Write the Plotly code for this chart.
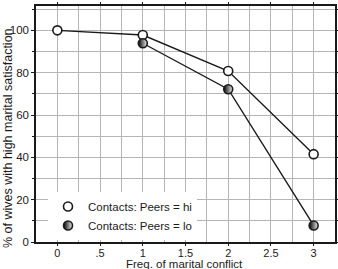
import plotly.graph_objects as go

conflict_hi = [0, 1, 2, 3]
sat_hi = [100, 97.8, 80.8, 41.5]
conflict_lo = [1, 2, 3]
sat_lo = [93.9, 72.2, 7.8]
name_hi = "Contacts: Peers = hi"
name_lo = "Contacts: Peers = lo"
x_tickvals = [0, 0.5, 1, 1.5, 2, 2.5, 3]
x_ticktext = ["0", ".5", "1", "1.5", "2", "2.5", "3"]
y_tickvals = [0, 20, 40, 60, 80, 100]
x_title = "Freq. of marital conflict"
y_title = "% of wives with high marital satisfaction"

FONT = "Liberation Sans, Arial, sans-serif"
INK = "#1a1a1a"
GRID = "#b5b5b5"

# plot area in pixels: x 36..335, y 6..242
L, R, T, B = 36, 3, 6, 27
PW, PH = 338 - L - R, 269 - T - B

fig = go.Figure()
fig.add_trace(go.Scatter(x=conflict_hi, y=sat_hi, mode="lines", showlegend=False,
                         line=dict(color=INK, width=1.4), hoverinfo="skip"))
fig.add_trace(go.Scatter(x=conflict_lo, y=sat_lo, mode="lines", showlegend=False,
                         line=dict(color=INK, width=1.4), hoverinfo="skip"))
fig.add_trace(go.Scatter(x=conflict_hi, y=sat_hi, mode="markers", name=name_hi,
                         marker=dict(symbol="circle", size=9, color="white",
                                     line=dict(color=INK, width=1.6))))
fig.add_trace(go.Scatter(x=conflict_lo, y=sat_lo, mode="markers", name=name_lo,
                         marker=dict(symbol="circle", size=9, color="#000000",
                                     gradient=dict(type="horizontal", color="#f0f0f0"),
                                     line=dict(color=INK, width=1.6))))

fig.update_layout(
    width=338, height=269,
    margin=dict(l=L, r=R, t=T, b=B),
    paper_bgcolor="white", plot_bgcolor="white",
    font=dict(family=FONT, size=11.5, color=INK),
    showlegend=True,
    legend=dict(x=(48 - L) / PW, y=(242 - 192) / PH, xanchor="left", yanchor="top",
                bgcolor="white", borderwidth=0, font=dict(size=11.5),
                itemwidth=30, tracegroupgap=0),
    annotations=[
        dict(text=y_title, xref="paper", yref="paper", x=(8 - L) / PW, y=(242 - 138) / PH,
             xanchor="center", yanchor="middle", textangle=-90, showarrow=False,
             font=dict(size=12.5, family=FONT, color=INK)),
        dict(text=x_title, xref="paper", yref="paper", x=(184 - L) / PW, y=(242 - 264) / PH,
             xanchor="center", yanchor="middle", showarrow=False,
             font=dict(size=11.5, family=FONT, color=INK)),
    ],
)
fig.update_xaxes(
    range=[-0.25, 3.25], tickvals=x_tickvals, ticktext=x_ticktext,
    showline=True, linecolor=INK, linewidth=1.5, mirror="ticks",
    ticks="outside", ticklen=2, tickcolor=INK, tickwidth=1,
    tickfont=dict(size=11), ticklabelstandoff=-2,
    showgrid=True, gridcolor=GRID, gridwidth=1,
    minor=dict(dtick=0.25, tick0=0, showgrid=True, gridcolor=GRID, gridwidth=1),
    zeroline=False, automargin=False,
)
fig.update_yaxes(
    range=[0, 111.5], tickvals=y_tickvals,
    showline=True, linecolor=INK, linewidth=1.5, mirror="ticks",
    ticks="outside", ticklen=3, tickcolor=INK, tickwidth=1,
    tickfont=dict(size=11.5),
    showgrid=True, gridcolor=GRID, gridwidth=1,
    minor=dict(dtick=10, tick0=0, showgrid=True, gridcolor=GRID, gridwidth=1,
               ticks="outside", ticklen=2, tickcolor=INK),
    zeroline=False, automargin=False,
)

fig.write_html("out.html")
